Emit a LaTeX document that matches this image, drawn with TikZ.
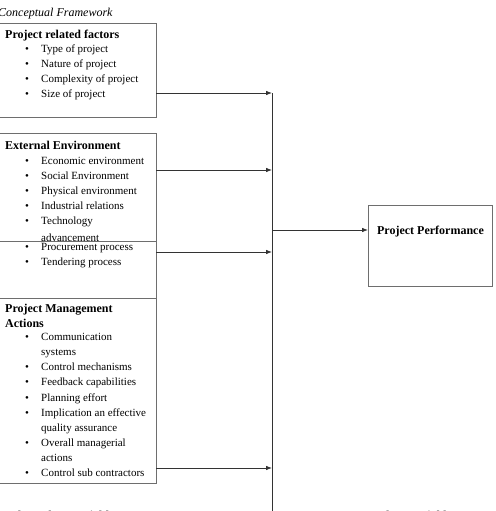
\documentclass[tikz,border=0pt]{standalone}
\usepackage{fontspec}
\setmainfont{Liberation Serif}
\usetikzlibrary{arrows.meta}
\definecolor{frame}{HTML}{6E6E6E}
\definecolor{wire}{HTML}{333333}

% bullet line and its continuation line
\newcommand{\bitem}[1]{\hspace*{20pt}\makebox[16pt][l]{\textbullet}#1}
\newcommand{\bcont}[1]{\hspace*{36pt}#1}
\newcommand{\btitle}[1]{{\fontsize{12}{15}\selectfont\bfseries #1}}

\begin{document}
\begin{tikzpicture}[x=1pt, y=-1pt,
    factor/.style={draw=frame, line width=0.9pt, fill=white, anchor=north west,
      minimum width=157pt, inner sep=0pt, outer sep=0pt},
    % text blocks are placed by the baseline of their last line
    points/.style={anchor=base west, align=left, inner sep=0pt,
      font=\fontsize{11}{15.1}\selectfont},
    heading/.style={inner sep=0pt, font=\fontsize{12}{15}\selectfont\bfseries},
    flow/.style={draw=wire, line width=0.8pt, -{Latex[length=6pt,width=4.6pt]}}]
  \clip (0,0) rectangle (495,511);

  \node[anchor=base west, inner sep=0pt, font=\fontsize{12}{15}\selectfont\itshape]
    (caption) at (-2,16.5) {Conceptual Framework};

  % independent variables
  \node[factor, minimum height=94pt] (related) at (-1,23) {};
  \node[points] (relatedtext) at (5,97.5) {\btitle{Project related factors}\\[-1pt]
    \bitem{Type of project}\\
    \bitem{Nature of project}\\
    \bitem{Complexity of project}\\
    \bitem{Size of project}};

  \node[factor, minimum height=108pt] (external) at (-1,133) {};
  \node[points] (externaltext) at (5,241.5) {\btitle{External Environment}\\[-1pt]
    \bitem{Economic environment}\\
    \bitem{Social Environment}\\
    \bitem{Physical environment}\\
    \bitem{Industrial relations}\\
    \bitem{Technology}\\[2pt]
    \bcont{advancement}};

  \node[factor, minimum height=57pt] (procure) at (-1,241) {};
  \node[points] (procuretext) at (5,265.5) {%
    \bitem{Procurement process}\\
    \bitem{Tendering process}};

  \node[factor, minimum height=185pt] (actions) at (-1,298) {};
  \node[points] (actionstext) at (5,476.5) {\btitle{Project Management}\\[-1pt]
    \btitle{Actions}\\[-1.5pt]
    \bitem{Communication}\\
    \bcont{systems}\\
    \bitem{Control mechanisms}\\
    \bitem{Feedback capabilities}\\
    \bitem{Planning effort}\\
    \bitem{Implication an effective}\\
    \bcont{quality assurance}\\
    \bitem{Overall managerial}\\
    \bcont{actions}\\
    \bitem{Control sub contractors}};

  % dependent variable
  \node[factor, minimum width=124pt, minimum height=81pt] (perf) at (368,205) {};
  \node[heading, anchor=base] (perftext) at (430.5,234) {Project Performance};

  % collecting line
  \coordinate (b1) at (272,93);
  \coordinate (b2) at (272,170);
  \coordinate (b3) at (272,252);
  \coordinate (b4) at (272,468);
  \coordinate (bout) at (272,230);
  \coordinate (bend) at (272,520);

  \draw[wire, line width=0.8pt] (b1) -- (bend);
  \draw[flow] (b1 -| related.east) -- (b1);
  \draw[flow] (b2 -| external.east) -- (b2);
  \draw[flow] (b3 -| procure.east) -- (b3);
  \draw[flow] (b4 -| actions.east) -- (b4);
  \draw[flow] (bout) -- (bout -| perf.west);

  \node[heading, anchor=base west] (indep) at (3,519) {Independent Variables};
  \node[heading, anchor=base west] (dep) at (350,519) {Dependent Variable};
\end{tikzpicture}
\end{document}
